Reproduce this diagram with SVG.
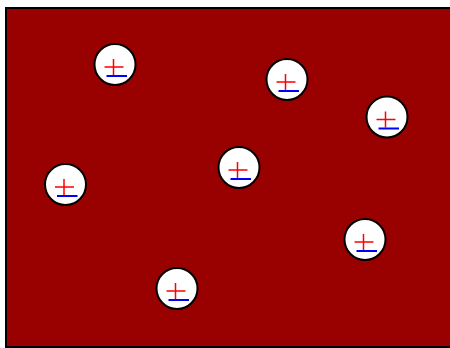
<svg xmlns="http://www.w3.org/2000/svg" width="450" height="348" viewBox="0 0 450 348">
<defs>
<style>
.bg{fill:#990000;stroke:#000;stroke-width:2}
.c{fill:#fff;stroke:#000;stroke-width:2}
.p{stroke:#f00;stroke-width:1.5;fill:none}
.m{stroke:#00f;stroke-width:2;fill:none}
</style>
<g id="sym">
<circle class="c" cx="0" cy="0" r="20.5"/>
<path class="p" d="M-1.5,-5.5V10.5M-10.5,2.5H8.5"/>
<path class="m" d="M-8.5,11.5H12"/>
</g>
</defs>
<rect class="bg" x="6" y="8" width="450" height="339"/>
<g id="n1"><use href="#sym" transform="translate(115,64.5)"/></g>
<g id="n2"><use href="#sym" transform="translate(287,79.5)"/></g>
<g id="n3"><use href="#sym" transform="translate(387,117)"/></g>
<g id="n4"><use href="#sym" transform="translate(65.5,184.5)"/></g>
<g id="n5"><use href="#sym" transform="translate(239,167.5)"/></g>
<g id="n6"><use href="#sym" transform="translate(365,239.5)"/></g>
<g id="n7"><use href="#sym" transform="translate(177,288.5)"/></g>
<g id="connectors"></g>
</svg>
